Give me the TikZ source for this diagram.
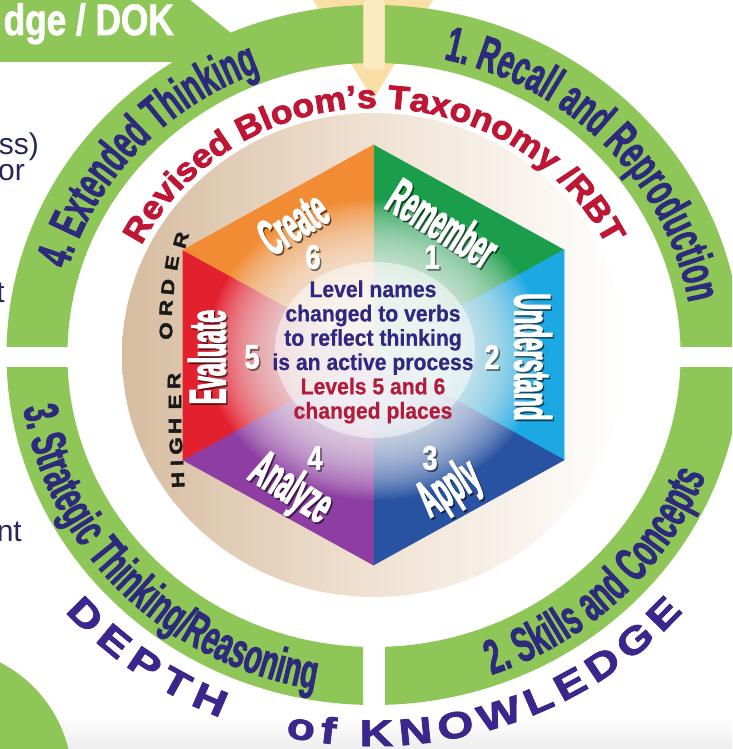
\documentclass[tikz,border=0pt]{standalone}
\usepackage{fontspec}
\setmainfont{Liberation Sans}
\newfontfamily\ringfont[FakeStretch=0.58,FakeBold=1.5]{Liberation Sans}
\newfontfamily\hexfont[FakeStretch=0.44,FakeBold=2]{Liberation Sans}
\newfontfamily\numfont[FakeStretch=0.8,FakeBold=1.5]{Liberation Sans}
\newfontfamily\midfont[FakeStretch=0.92,FakeBold=0.5]{Liberation Sans}
\newfontfamily\rbtfont[FakeStretch=1.08,FakeBold=2.5]{Liberation Sans}
\newfontfamily\depthfont[FakeStretch=1.25,FakeBold=2]{Liberation Sans}
\newfontfamily\bannerfont[FakeStretch=0.8,FakeBold=1.5]{Liberation Sans}
\usetikzlibrary{decorations.text,calc}
\definecolor{ringgreen}{RGB}{143,198,88}
\definecolor{ringtxt}{RGB}{45,42,125}
\definecolor{crimson}{RGB}{190,22,52}
\definecolor{depthc}{RGB}{58,38,140}
\definecolor{tanD}{RGB}{214,188,160}
\definecolor{tanL}{RGB}{240,226,210}
\definecolor{arrowy}{RGB}{249,222,166}
\definecolor{arrowyl}{RGB}{252,234,192}
\definecolor{cRem}{RGB}{26,158,76}
\definecolor{cUnd}{RGB}{28,168,226}
\definecolor{cApp}{RGB}{40,82,162}
\definecolor{cAna}{RGB}{142,62,162}
\definecolor{cEva}{RGB}{226,32,46}
\definecolor{cCre}{RGB}{242,140,52}
\definecolor{midtxt}{RGB}{48,40,128}
\definecolor{midred}{RGB}{178,28,58}
\definecolor{sidetxt}{RGB}{40,40,90}
\newcommand\RingF{\ringfont\bfseries\fontsize{49}{49}\selectfont}
\newcommand\RbtF{\rbtfont\bfseries\fontsize{33}{33}\selectfont}
\newcommand\DepF{\depthfont\bfseries\fontsize{37}{37}\selectfont}
\newcommand\shnode[5]{%
  \node[#4, text=black, opacity=0.45, rotate=#3] (#1s) at ($(#2)+(1.5,-1.8)$) {#5};
  \node[#4, rotate=#3] (#1) at (#2) {#5};}
\begin{document}
\begin{tikzpicture}[x=1pt,y=1pt,
  hexlab/.style={font=\hexfont\bfseries\fontsize{52}{52}\selectfont, text=white, inner sep=0pt},
  numlab/.style={font=\numfont\bfseries\fontsize{34}{34}\selectfont, text=white, inner sep=0pt},
  hoLetter/.style={font=\depthfont\bfseries\fontsize{18}{18}\selectfont, text=black!90, inner sep=0pt},
  sidefrag/.style={font=\fontsize{30}{30}\selectfont, text=sidetxt, anchor=base east, inner sep=0pt},
  sector/.style={fill=#1, draw=#1, line width=0.6pt, line join=round},
  ringseg/.style={fill=ringgreen, even odd rule},
]
\useasboundingbox (0,0) rectangle (732,749);
\clip (0,0) rectangle (732,749);
\fill[white] (0,0) rectangle (732,749);
\shade[top color=white, bottom color=black!7] (0,0) rectangle (732,32);
\coordinate (C) at (374,394);

% tan disk
\shade[left color=tanD, right color=white, middle color=tanL] (C) ellipse[x radius=252, y radius=242];

% pale arrow at top
\fill[arrowy] (310,754) -- (436,754) -- (373,649) -- cycle;
\fill[arrowyl] (364,754) rectangle (384,680);

% green ring segments
\foreach \xa/\ya/\xb/\yb in {385/402/760/780, 385/-40/760/381, -40/-40/363/381, -40/402/363/780} {
  \begin{scope}
    \clip (\xa,\ya) rectangle (\xb,\yb);
    \fill[ringseg] (C) ellipse[x radius=367.5, y radius=350] (C) ellipse[x radius=306.6, y radius=292];
  \end{scope}
}
% banner
\fill[ringgreen] (-5,754) -- (184,754) -- (231,716) -- (240,687) -- (-5,687) -- cycle;
\node[font=\bannerfont\bfseries\fontsize{44}{44}\selectfont, text=white, anchor=base east, inner sep=0pt] (banner) at (174,714) {dge / DOK};
% bottom-left blob
\fill[ringgreen] (-60,-31) circle[radius=132];

% side fragments
\node[sidefrag] (f1) at (39,594) {ss)};
\node[sidefrag] (f2) at (25,568) {or};
\node[sidefrag] (f3) at (5,446) {t};
\node[sidefrag] (f4) at (22,207) {nt};

% hexagon
\coordinate (H0) at (373.5,394.5);
\coordinate (Ht) at (373.5,604);
\coordinate (Hur) at (564,499);
\coordinate (Hlr) at (564,289);
\coordinate (Hb) at (373.5,184);
\coordinate (Hll) at (183,289);
\coordinate (Hul) at (183,499);
\filldraw[sector=cRem] (H0) -- (Ht) -- (Hur) -- cycle;
\filldraw[sector=cUnd] (H0) -- (Hur) -- (Hlr) -- cycle;
\filldraw[sector=cApp] (H0) -- (Hlr) -- (Hb) -- cycle;
\filldraw[sector=cAna] (H0) -- (Hb) -- (Hll) -- cycle;
\filldraw[sector=cEva] (H0) -- (Hll) -- (Hul) -- cycle;
\filldraw[sector=cCre] (H0) -- (Hul) -- (Ht) -- cycle;

% glow
\foreach \r in {56,58,...,150} {\fill[white, opacity=0.045] (375,399) ellipse[x radius=1.12*\r, y radius=\r];}
\fill[white, opacity=0.5] (375,399) ellipse[x radius=100, y radius=88];

% hexagon labels
\shnode{lCre}{293,526}{32}{hexlab}{Create}
\shnode{lRem}{443,526}{-32}{hexlab}{Remember}
\shnode{lUnd}{533,392}{-90}{hexlab}{Understand}
\shnode{lEva}{207,392}{90}{hexlab}{Evaluate}
\shnode{lAna}{290,259}{-32}{hexlab}{Analyze}
\shnode{lApp}{450,259}{32}{hexlab}{Apply}
\shnode{n6}{313,492}{0}{numlab}{6}
\shnode{n1}{432,492}{0}{numlab}{1}
\shnode{n2}{492,392}{0}{numlab}{2}
\shnode{n5}{252,392}{0}{numlab}{5}
\shnode{n4}{315,291}{0}{numlab}{4}
\shnode{n3}{430,291}{0}{numlab}{3}

% centre text
\node[font=\midfont\bfseries\fontsize{23}{24.3}\selectfont, align=center, text=midtxt, inner sep=0pt] (mid) at (373,397)
  {Level names\\changed to verbs\\to reflect thinking\\is an active process\\\textcolor{midred}{Levels 5 and 6}\\\textcolor{midred}{changed places}};

% ring labels
\path[decorate, decoration={text along path, text align=center, text color=ringtxt, text={|\RingF|1. Recall and Reproduction}}]
  ($(C)+(84:319.2 and 303)$) arc[start angle=84, end angle=3, x radius=319.2, y radius=303];
\path[decorate, decoration={text along path, text align=center, text color=ringtxt, text={|\RingF|4. Extended Thinking}}]
  ($(C)+(174:319.2 and 303)$) arc[start angle=174, end angle=101, x radius=319.2, y radius=303];
\path[decorate, decoration={text along path, text align=center, text color=ringtxt, text={|\RingF|3. Strategic Thinking/Reasoning}}]
  ($(C)+(181:354.9 and 339)$) arc[start angle=181, end angle=268, x radius=354.9, y radius=339];
\path[decorate, decoration={text along path, text align=center, text color=ringtxt, text={|\RingF|2. Skills and Concepts}}]
  ($(C)+(277:354.9 and 339)$) arc[start angle=277, end angle=352, x radius=354.9, y radius=339];

% Revised Bloom's Taxonomy
\path[decorate, decoration={text along path, text align=center, text color=crimson, text={|\RbtF|Revised Bloom’s Taxonomy /RBT}}]
  ($(C)+(168:259.4 and 247)$) arc[start angle=168, end angle=12, x radius=259.4, y radius=247];

% HIGHER ORDER
\foreach \l/\x/\y/\r [count=\i] in {H/178/480/93, I/177/463/92, G/176/446/91, H/175/426/90, E/175/402/90, R/174/381/89, O/166/331/88, R/166/308/86, D/168/287/84, E/172/263/80, R/181/240/74} {
  \node[hoLetter, rotate=\r] (ho\i) at (\x,{749-\y}) {\l};
}

% DEPTH of KNOWLEDGE
\begin{scope}[xshift=1.5, yshift=-1.5]
\path[decorate, decoration={text along path, text align=fit to path, text color=black!30, text={|\DepF|DEPTH}}]
  ($(C)+(221:409.5 and 391)$) arc[start angle=221, end angle=248, x radius=409.5, y radius=391];
\path[decorate, decoration={text along path, text align=fit to path, text color=black!30, text={|\DepF|of}}]
  ($(C)+(257.5:409.5 and 391)$) arc[start angle=257.5, end angle=264.5, x radius=409.5, y radius=391];
\path[decorate, decoration={text along path, text align=fit to path, text color=black!30, text={|\DepF|KNOWLEDGE}}]
  ($(C)+(268:409.5 and 391)$) arc[start angle=268, end angle=319, x radius=409.5, y radius=391];
\end{scope}
\path[decorate, decoration={text along path, text align=fit to path, text color=depthc, text={|\DepF|DEPTH}}]
  ($(C)+(221:409.5 and 391)$) arc[start angle=221, end angle=248, x radius=409.5, y radius=391];
\path[decorate, decoration={text along path, text align=fit to path, text color=depthc, text={|\DepF|of}}]
  ($(C)+(257.5:409.5 and 391)$) arc[start angle=257.5, end angle=264.5, x radius=409.5, y radius=391];
\path[decorate, decoration={text along path, text align=fit to path, text color=depthc, text={|\DepF|KNOWLEDGE}}]
  ($(C)+(268:409.5 and 391)$) arc[start angle=268, end angle=319, x radius=409.5, y radius=391];
\end{tikzpicture}
\end{document}
